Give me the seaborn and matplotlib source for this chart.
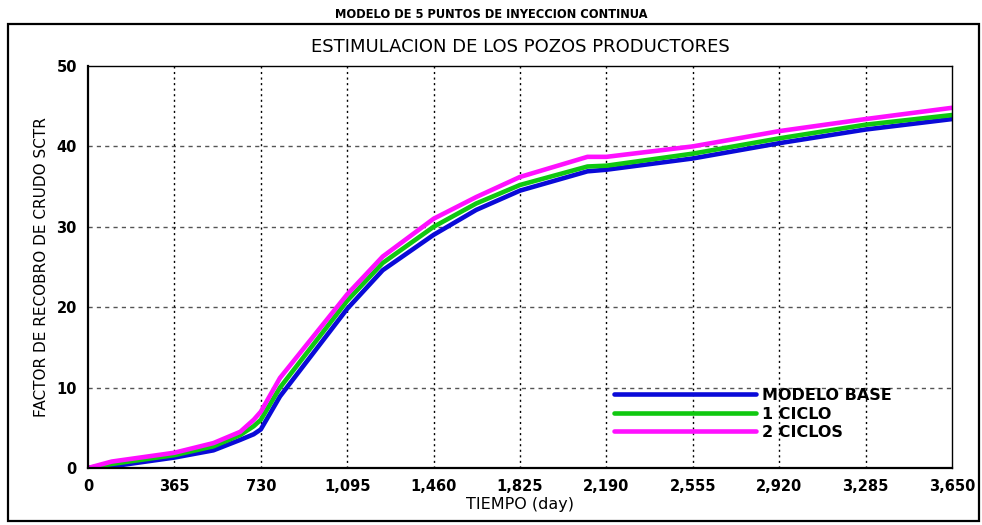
import matplotlib
matplotlib.use("Agg")
import matplotlib.pyplot as plt
import seaborn as sns
import pandas as pd
from matplotlib.patches import Rectangle
from matplotlib.ticker import FuncFormatter

days = [0, 100, 365, 530, 643, 700, 730, 811, 1095, 1245, 1460, 1640, 1825, 2110, 2190, 2555, 2920, 3285, 3650]
modelo_base = [0, 0.2, 1.3, 2.2, 3.5, 4.2, 4.8, 8.9, 19.8, 24.6, 29.0, 32.1, 34.5, 36.9, 37.1, 38.5, 40.4, 42.1, 43.4]
un_ciclo = [0, 0.5, 1.6, 2.7, 4.1, 5.2, 6.0, 10.0, 20.8, 25.5, 30.0, 32.9, 35.2, 37.5, 37.6, 39.1, 41.0, 42.7, 43.9]
dos_ciclos = [0, 0.8, 1.9, 3.1, 4.5, 6.0, 7.0, 11.2, 21.6, 26.3, 31.0, 33.7, 36.2, 38.7, 38.7, 40.0, 41.9, 43.4, 44.8]
series_names = ["MODELO BASE", "1 CICLO", "2 CICLOS"]
colors = ["#0a0ad8", "#10c810", "#ff10ff"]
x_ticks = [0, 365, 730, 1095, 1460, 1825, 2190, 2555, 2920, 3285, 3650]
y_ticks = [0, 10, 20, 30, 40, 50]

rows = []
for name, vals in zip(series_names, [modelo_base, un_ciclo, dos_ciclos]):
    for d, v in zip(days, vals):
        rows.append({"dia": d, "valor": v, "serie": name})
df = pd.DataFrame(rows)

sns.set_style("white")
plt.rcParams["font.family"] = ["DejaVu Sans"]
plt.rcParams["text.color"] = "black"
plt.rcParams["axes.labelcolor"] = "black"
plt.rcParams["xtick.color"] = "black"
plt.rcParams["ytick.color"] = "black"
plt.rcParams["legend.labelcolor"] = "black"

fig = plt.figure(figsize=(9.82, 5.25), dpi=100)
ax = fig.add_axes([88 / 982, (525 - 468) / 525, 864 / 982, 402 / 525])

sns.lineplot(data=df, x="dia", y="valor", hue="serie", hue_order=series_names,
             palette=colors, linewidth=3.3, ax=ax, legend=True)

ax.set_xlim(0, 3650)
ax.set_ylim(0, 50)
ax.set_xticks(x_ticks)
ax.set_yticks(y_ticks)
ax.xaxis.set_major_formatter(FuncFormatter(lambda v, p: f"{int(v):,}"))
for lab in ax.get_xticklabels() + ax.get_yticklabels():
    lab.set_fontweight("bold")
ax.tick_params(axis="both", direction="out", length=5, width=1.2, labelsize=10.5,
               colors="black", labelcolor="black")
ax.tick_params(axis="x", pad=3)
ax.tick_params(axis="y", pad=3)

for y in y_ticks[1:-1]:
    ax.axhline(y, color="#555555", linestyle=(0, (3, 3)), linewidth=1.0, zorder=0)
for x in x_ticks[1:-1]:
    ax.axvline(x, color="black", linestyle=(0, (1.5, 2.5)), linewidth=1.0, zorder=0)

for s in ax.spines.values():
    s.set_color("black")
    s.set_linewidth(1.0)
ax.spines["left"].set_linewidth(1.6)
ax.spines["bottom"].set_linewidth(1.6)

ax.set_xlabel("TIEMPO (day)", fontsize=11.5, labelpad=2, color="black")
ax.set_ylabel("FACTOR DE RECOBRO DE CRUDO SCTR", fontsize=11, labelpad=5, color="black")
ax.set_title("ESTIMULACION DE LOS POZOS PRODUCTORES", fontsize=13, pad=10, color="black")
fig.text(0.5, 1 - 14 / 525, "MODELO DE 5 PUNTOS DE INYECCION CONTINUA",
         ha="center", va="center", fontsize=8.3, fontweight="bold", color="black")

leg = ax.legend(loc="upper left", bbox_to_anchor=((614 - 88) / 864, (468 - 388) / 402),
                frameon=False, handlelength=8.9, handletextpad=0.36, labelspacing=0.22,
                borderpad=0, borderaxespad=0, prop={"weight": "bold", "size": 11.5})
for line in leg.get_lines():
    line.set_linewidth(3.3)
for t in leg.get_texts():
    t.set_color("black")

fig.add_artist(Rectangle((8 / 982, 4 / 525), 971 / 982, 497 / 525, transform=fig.transFigure,
                         fill=False, edgecolor="black", linewidth=1.6))

fig.savefig("out.png", dpi=100)
